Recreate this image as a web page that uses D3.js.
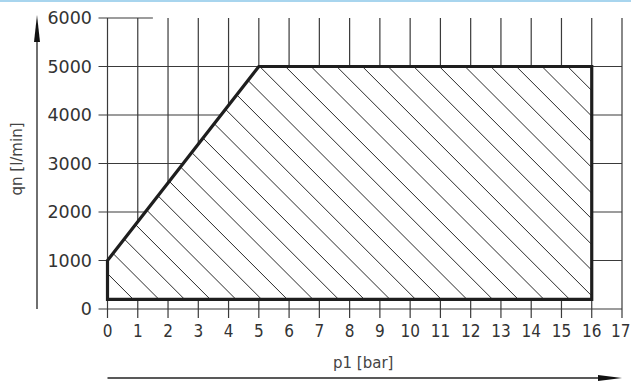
<!DOCTYPE html>
<html>
<head>
<meta charset="utf-8">
<script src="https://cdn.jsdelivr.net/npm/d3@7"></script>
<style>
  html, body { margin: 0; padding: 0; background: #fff; }
  svg { display: block; }
  text { font-family: "DejaVu Sans", sans-serif; }
</style>
</head>
<body>
<svg id="chart" width="631" height="381"></svg>
<script>
// Operating range: pressure p1 [bar] vs. nominal flow qn [l/min]
const pressureTicks = [0, 1, 2, 3, 4, 5, 6, 7, 8, 9, 10, 11, 12, 13, 14, 15, 16, 17];
const flowTicks = [0, 1000, 2000, 3000, 4000, 5000, 6000];
const rangeP1 = [0, 0, 5, 16, 16];
const rangeQn = [200, 1000, 5000, 5000, 200];
const xTitle = "p1 [bar]";
const yTitle = "qn [l/min]";

const svg = d3.select("#chart");
const x = d3.scaleLinear().domain([0, 17]).range([107.5, 622]);
const y = d3.scaleLinear().domain([0, 6000]).range([309, 18]);

const gridColor = "#3a3a3a";
const textColor = "#333";

// header rule
svg.append("line")
  .attr("x1", 0).attr("x2", 631).attr("y1", 1).attr("y2", 1)
  .attr("stroke", "#a8d5ee").attr("stroke-width", 2);

// grid: verticals (extend below the zero line as ticks)
svg.append("g").selectAll("line").data(pressureTicks).join("line")
  .attr("x1", d => x(d)).attr("x2", d => x(d))
  .attr("y1", y(6000)).attr("y2", y(0) + 9)
  .attr("stroke", gridColor).attr("stroke-width", 1.2);

// grid: horizontals (extend left of the axis as ticks)
svg.append("g").selectAll("line").data(flowTicks.filter(d => d < 6000)).join("line")
  .attr("x1", x(0) - 9).attr("x2", x(17))
  .attr("y1", d => y(d)).attr("y2", d => y(d))
  .attr("stroke", gridColor).attr("stroke-width", 1.2);
// top line is only drawn near the axis
svg.append("line")
  .attr("x1", x(0) - 9).attr("x2", x(1.5))
  .attr("y1", y(6000)).attr("y2", y(6000))
  .attr("stroke", gridColor).attr("stroke-width", 1.2);

// operating range polygon
const pts = rangeP1.map((p, i) => [x(p), y(rangeQn[i])]);
const polyPath = "M" + pts.map(p => p.join(",")).join("L") + "Z";

svg.append("clipPath").attr("id", "rangeClip")
  .append("path").attr("d", polyPath);

svg.append("path").attr("d", polyPath).attr("fill", "#fff");

// diagonal hatching (45 deg, falling to the right)
const hatch = svg.append("g").attr("clip-path", "url(#rangeClip)");
const step = (x(1) - x(0)) * 0.848;
const c0 = x(0.85) - y(200);
const lines = d3.range(-5, 40).map(k => c0 + k * step);
hatch.selectAll("line").data(lines).join("line")
  .attr("x1", c => c + 0).attr("y1", 0)
  .attr("x2", c => c + 400).attr("y2", 400)
  .attr("stroke", "#111").attr("stroke-width", 0.9);

svg.append("path").attr("d", polyPath)
  .attr("fill", "none").attr("stroke", "#1e1e1e")
  .attr("stroke-width", 3.2).attr("stroke-linejoin", "miter");

// tick labels
const xLabels = svg.append("g").selectAll("text").data(pressureTicks).join("text")
  .attr("x", d => x(d)).attr("y", 337)
  .attr("text-anchor", "middle")
  .attr("font-size", 17).attr("font-stretch", "condensed")
  .attr("fill", textColor)
  .text(d => d);
// keep the last label inside the frame
xLabels.each(function () {
  const b = this.getBBox();
  const over = b.x + b.width - 630.5;
  if (over > 0) d3.select(this).attr("x", +d3.select(this).attr("x") - over);
});

svg.append("g").selectAll("text").data(flowTicks).join("text")
  .attr("x", 92).attr("y", d => y(d)).attr("dy", "0.36em")
  .attr("text-anchor", "end")
  .attr("font-size", 17.5).attr("fill", textColor)
  .text(d => d);

// axis titles
svg.append("text")
  .attr("x", x(8.45)).attr("y", 368)
  .attr("text-anchor", "middle")
  .attr("font-size", 15).attr("fill", "#444")
  .text(xTitle);

svg.append("text")
  .attr("transform", "translate(22,159) rotate(-90)")
  .attr("text-anchor", "middle")
  .attr("font-size", 15).attr("fill", "#444")
  .text(yTitle);

// direction arrows
svg.append("line")
  .attr("x1", 37).attr("x2", 37).attr("y1", 36).attr("y2", 309)
  .attr("stroke", "#222").attr("stroke-width", 1.3);
svg.append("path")
  .attr("d", "M37,15 L40,42 L34,42 Z").attr("fill", "#111");

svg.append("line")
  .attr("x1", x(0)).attr("x2", 600).attr("y1", 378).attr("y2", 378)
  .attr("stroke", "#222").attr("stroke-width", 1.3);
svg.append("path")
  .attr("d", "M622,378 L598,375 L598,381 Z").attr("fill", "#111");
</script>
</body>
</html>
